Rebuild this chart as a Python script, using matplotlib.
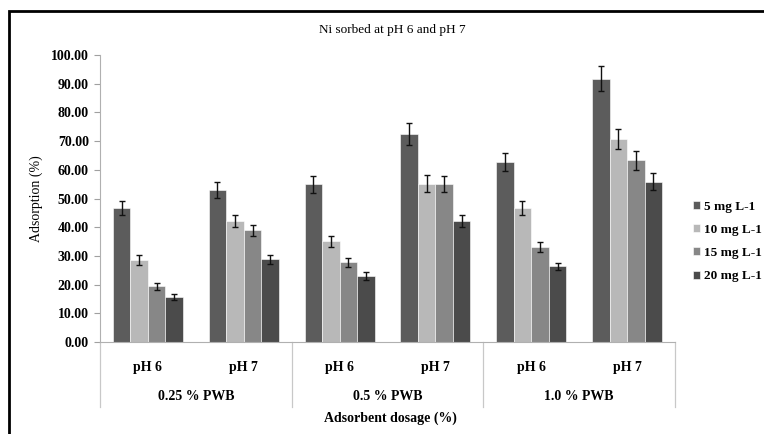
import matplotlib
matplotlib.use('Agg')
import matplotlib.pyplot as plt
import numpy as np
from matplotlib.patches import Rectangle
from matplotlib.lines import Line2D

plt.rcParams['font.family'] = ['Liberation Serif', 'DejaVu Serif']

ph_labels = ['pH 6', 'pH 7', 'pH 6', 'pH 7', 'pH 6', 'pH 7']
dosages = ['0.25 % PWB', '0.5 % PWB', '1.0 % PWB']
series = ['5 mg L-1', '10 mg L-1', '15 mg L-1', '20 mg L-1']

ads_5 = [46.8, 53.1, 54.9, 72.5, 62.7, 91.8]
ads_10 = [28.5, 42.1, 35.1, 55.2, 46.8, 70.7]
ads_15 = [19.4, 38.9, 27.8, 55.1, 33.1, 63.4]
ads_20 = [15.7, 28.8, 23.0, 42.2, 26.4, 55.9]

err_5 = [2.5, 2.8, 2.9, 3.7, 3.1, 4.5]
err_10 = [1.7, 2.1, 1.9, 3.0, 2.4, 3.5]
err_15 = [1.2, 2.0, 1.6, 2.8, 1.7, 3.3]
err_20 = [1.0, 1.6, 1.3, 2.2, 1.3, 2.9]

values = [ads_5, ads_10, ads_15, ads_20]
errors = [err_5, err_10, err_15, err_20]
colors = ['#5c5c5c', '#b8b8b8', '#878787', '#4b4b4b']

fig = plt.figure(figsize=(7.64, 4.34), dpi=100)
ax = fig.add_axes([100 / 764, 1 - 342 / 434, 575 / 764, 287 / 434])

x = np.arange(len(ph_labels))
w = 0.183
for i, (vals, errs) in enumerate(zip(values, errors)):
    pos = x + (i - 1.5) * w
    ax.bar(pos, vals, w, color=colors[i], edgecolor='white', linewidth=0.4,
           label=series[i], zorder=2)
    ax.errorbar(pos, vals, yerr=errs, fmt='none', ecolor='#111111',
                elinewidth=1.0, capsize=2.5, capthick=1.0, zorder=3)

ax.set_xlim(-0.5, len(ph_labels) - 0.5)
ax.set_ylim(0, 100)
ax.set_yticks(np.arange(0, 101, 10))
ax.set_yticklabels([f'{v:.2f}' for v in np.arange(0, 101, 10)],
                   fontsize=10, fontweight='bold')
ax.tick_params(axis='y', length=4, color='#a0a0a0', pad=4)

ax.set_xticks(x)
ax.set_xticklabels(ph_labels, fontsize=10, fontweight='bold')
ax.tick_params(axis='x', length=0, pad=14)

for s in ['top', 'right']:
    ax.spines[s].set_visible(False)
ax.spines['left'].set_color('#b0b0b0')
ax.spines['bottom'].set_color('#b0b0b0')

# group labels and separators under the category axis
trans = ax.get_xaxis_transform()
for k, name in enumerate(dosages):
    ax.text(2 * k + 0.5, -0.19, name, transform=trans, ha='center', va='center',
            fontsize=10, fontweight='bold')
for xs in [-0.5, 1.5, 3.5, 5.5]:
    ax.add_line(Line2D([xs, xs], [0, -0.227], transform=trans, color='#c8c8c8',
                       linewidth=0.9, clip_on=False))

ax.set_ylabel('Adsorption (%)', fontsize=10, labelpad=6)
fig.text(390 / 764, 1 - 418 / 434, 'Adsorbent dosage (%)', ha='center', va='center',
         fontsize=10, fontweight='bold')
fig.text(392 / 764, 1 - 30 / 434, 'Ni sorbed at pH 6 and pH 7', ha='center',
         va='center', fontsize=9.5)

leg = fig.legend(loc='upper left', bbox_to_anchor=(686 / 764, 1 - 194 / 434),
                 frameon=False, fontsize=9.5, handlelength=0.55, handleheight=0.55,
                 handletextpad=0.3, labelspacing=0.85, borderpad=0)
for t in leg.get_texts():
    t.set_fontweight('bold')

# outer frame
fig.patches.append(Rectangle((9 / 764, -0.1), 1.2, 1 - 11 / 434 + 0.1,
                             transform=fig.transFigure, fill=False,
                             edgecolor='black', linewidth=2))

fig.savefig('out.png', dpi=100)
